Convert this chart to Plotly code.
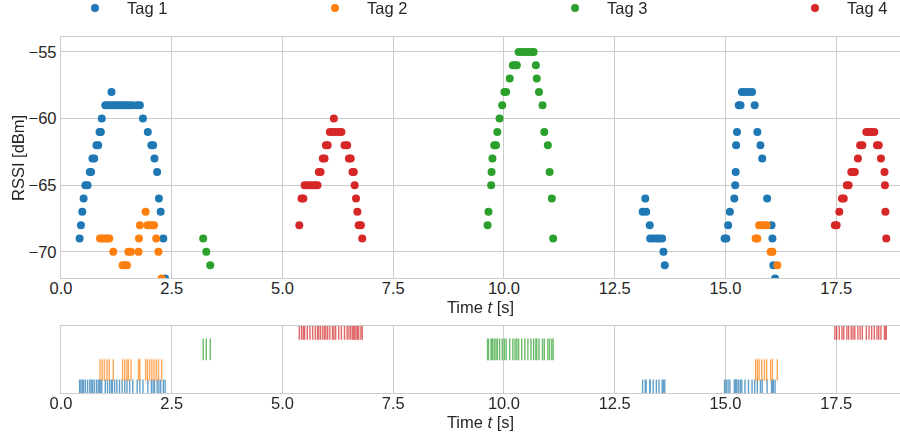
import plotly.graph_objects as go

# ---------------- data ----------------
tag_names = ["Tag 1", "Tag 2", "Tag 3", "Tag 4"]
tag_colors = ["#1f77b4", "#ff7f0e", "#2ca02c", "#d62728"]

t1_time = [0.42, 0.45, 0.48, 0.51, 0.55, 0.60, 0.65, 0.68, 0.71, 0.75, 0.80, 0.84, 0.87, 0.90, 0.92,
           1.00, 1.05, 1.10, 1.14, 1.16, 1.21, 1.26, 1.32, 1.38, 1.44, 1.49, 1.55, 1.62, 1.72, 1.78,
           1.85, 1.96, 2.04, 2.08, 2.11, 2.17, 2.21, 2.25, 2.31, 2.35,
           13.13, 13.19, 13.21, 13.29, 13.30, 13.37, 13.44, 13.50, 13.57, 13.60, 13.63,
           14.98, 15.02, 15.06, 15.10, 15.20, 15.22, 15.23, 15.24, 15.26, 15.30, 15.34, 15.37, 15.44,
           15.52, 15.60, 15.66, 15.72, 15.79, 15.83, 15.94, 16.04, 16.06, 16.08, 16.12]
t1_rssi = [-69, -68, -67, -66, -65, -65, -64, -64, -63, -63, -62, -62, -61, -61, -60,
           -59, -59, -59, -58, -59, -59, -59, -59, -59, -59, -59, -59, -59, -59, -59,
           -60, -61, -62, -62, -63, -64, -66, -67, -69, -72,
           -67, -66, -67, -68, -69, -69, -69, -69, -69, -70, -71,
           -69, -69, -68, -67, -66, -65, -64, -62, -61, -59, -59, -58, -58,
           -58, -58, -59, -61, -62, -63, -66, -68, -69, -71, -72]

t2_time = [0.88, 0.93, 0.98, 1.04, 1.09, 1.18, 1.39, 1.44, 1.49, 1.52, 1.58, 1.75, 1.76, 1.78,
           1.91, 1.95, 2.00, 2.05, 2.10, 2.15, 2.20, 2.27,
           15.68, 15.72, 15.76, 15.82, 15.88, 15.93, 16.02, 16.06, 16.17]
t2_rssi = [-69, -69, -69, -69, -69, -70, -71, -71, -71, -70, -70, -70, -69, -68,
           -67, -68, -68, -68, -68, -69, -70, -72,
           -69, -69, -68, -68, -68, -68, -70, -70, -71]

t3_time = [3.21, 3.28, 3.37,
           9.63, 9.65, 9.71, 9.72, 9.74, 9.78, 9.82, 9.85, 9.90, 9.96, 10.01, 10.05, 10.13,
           10.20, 10.25, 10.29, 10.33, 10.40, 10.47, 10.54, 10.61, 10.67, 10.72, 10.74, 10.79,
           10.87, 10.91, 10.99, 11.03, 11.08, 11.11]
t3_rssi = [-69, -70, -71,
           -68, -67, -65, -64, -63, -62, -62, -61, -60, -59, -58, -58, -57,
           -56, -56, -56, -55, -55, -55, -55, -55, -55, -56, -57, -58,
           -59, -61, -62, -64, -66, -69]

t4_time = [5.38, 5.43, 5.47, 5.50, 5.56, 5.62, 5.68, 5.74, 5.79, 5.82, 5.86, 5.91, 5.95, 5.98, 6.02,
           6.07, 6.13, 6.16, 6.20, 6.27, 6.33, 6.40, 6.46, 6.50, 6.54, 6.58, 6.61, 6.63, 6.66, 6.69,
           6.72, 6.77, 6.80,
           17.47, 17.51, 17.57, 17.63, 17.67, 17.74, 17.78, 17.84, 17.88, 17.92, 17.99, 18.04, 18.09,
           18.18, 18.24, 18.30, 18.36, 18.42, 18.46, 18.51, 18.59, 18.60, 18.61, 18.63]
t4_rssi = [-68, -66, -66, -65, -65, -65, -65, -65, -65, -64, -64, -63, -63, -62, -62,
           -61, -61, -60, -61, -61, -61, -62, -62, -63, -63, -64, -64, -65, -66, -67,
           -68, -68, -69,
           -68, -68, -67, -66, -66, -65, -65, -64, -64, -64, -63, -62, -62,
           -61, -61, -61, -61, -62, -62, -63, -64, -65, -67, -69]

x_ticks = [0.0, 2.5, 5.0, 7.5, 10.0, 12.5, 15.0, 17.5]
x_ticktext = ["0.0", "2.5", "5.0", "7.5", "10.0", "12.5", "15.0", "17.5"]
y_ticks = [-70, -65, -60, -55]
y_ticktext = ["\u221270", "\u221265", "\u221260", "\u221255"]

times = [t1_time, t2_time, t3_time, t4_time]
rssis = [t1_rssi, t2_rssi, t3_rssi, t4_rssi]

# ---------------- figure ----------------
FONT = "Liberation Sans, Arial, sans-serif"
FS = 16.5
TXT = "#262626"
GRID = "#cccccc"
legend_ids = ["legend", "legend2", "legend3", "legend4"]
legend_left_px = [63, 303, 543, 783]

fig = go.Figure()
for i in range(4):
    fig.add_trace(go.Scatter(
        x=times[i], y=rssis[i], mode="markers", name=tag_names[i],
        marker=dict(color=tag_colors[i], size=8, line=dict(width=0)),
        legend=legend_ids[i], xaxis="x", yaxis="y"))
for i in range(4):
    fig.add_trace(go.Scatter(
        x=times[i], y=[i] * len(times[i]), mode="markers", showlegend=False,
        marker=dict(symbol="line-ns", size=15.5, color=tag_colors[i],
                    line=dict(width=1.4, color=tag_colors[i])),
        opacity=0.7, xaxis="x2", yaxis="y2"))

axis_common = dict(showgrid=True, gridcolor=GRID, gridwidth=1, zeroline=False,
                   showline=True, linecolor=GRID, linewidth=1.25, mirror=True,
                   ticks="", tickfont=dict(family=FONT, size=FS, color=TXT))

legends = {}
for i, lid in enumerate(legend_ids):
    legends[lid] = dict(orientation="h", x=legend_left_px[i] / 900, xanchor="left",
                        y=1.021, yanchor="top", xref="container", yref="paper",
                        itemwidth=54, itemsizing="trace",
                        font=dict(family=FONT, size=FS, color=TXT),
                        bgcolor="rgba(0,0,0,0)", borderwidth=0)

fig.update_layout(
    width=900, height=441,
    margin=dict(l=61, r=0, t=0, b=0, autoexpand=False),
    paper_bgcolor="white", plot_bgcolor="white",
    font=dict(family=FONT, size=FS, color=TXT),
    showlegend=True,
    xaxis=dict(axis_common, domain=[0, 1], anchor="y", range=[0, 18.94],
               tickvals=x_ticks, ticktext=x_ticktext, ticklabelstandoff=-5,
               title=dict(text="Time <i>t</i> [s]", font=dict(family=FONT, size=FS, color=TXT), standoff=5)),
    yaxis=dict(axis_common, domain=[0.3685, 0.9154], anchor="x", range=[-72, -53.9],
               tickvals=y_ticks, ticktext=y_ticktext),
    xaxis2=dict(axis_common, domain=[0, 1], anchor="y2", range=[0, 18.94],
                tickvals=x_ticks, ticktext=x_ticktext, ticklabelstandoff=-5,
                title=dict(text="Time <i>t</i> [s]", font=dict(family=FONT, size=FS, color=TXT), standoff=5)),
    yaxis2=dict(axis_common, domain=[0.1082, 0.2615], anchor="x2", range=[-0.14, 3.16],
                showgrid=False, showticklabels=False),
    annotations=[dict(text="RSSI [dBm]", textangle=-90, xref="paper", yref="paper",
                      x=(18 - 61) / 839, y=1 - 158 / 441, xanchor="center", yanchor="middle",
                      showarrow=False, font=dict(family=FONT, size=FS, color=TXT))],
    **legends,
)

fig.write_html("out.html")
